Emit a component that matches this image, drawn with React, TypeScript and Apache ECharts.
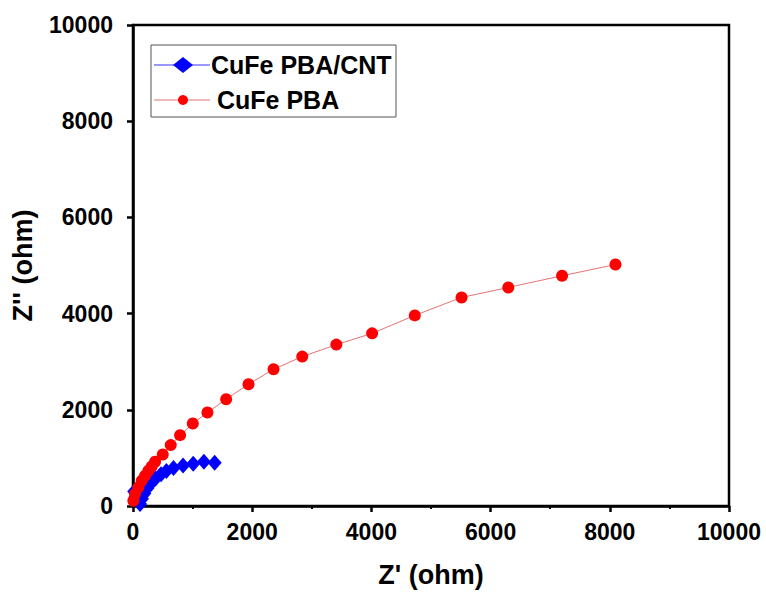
import React, { useEffect, useRef } from "react";
import * as echarts from "echarts";

const seriesNames = ["CuFe PBA/CNT", "CuFe PBA"];

// [Z', Z''] in ohm
const cntData: number[][] = [
  [20, 300], [45, 200], [118, 40], [150, 150], [190, 260], [240, 370], [300, 470],
  [380, 570], [470, 660], [560, 730], [680, 790], [840, 840], [1010, 880],
  [1190, 920], [1370, 900],
];

const pbaData: number[][] = [
  [6, 110], [34, 249], [90, 387], [146, 525], [202, 629], [258, 733], [314, 823],
  [370, 920], [499, 1072], [633, 1266], [790, 1473], [1003, 1715], [1249, 1943],
  [1563, 2220], [1938, 2531], [2358, 2842], [2840, 3106], [3412, 3355],
  [4012, 3589], [4728, 3963], [5513, 4336], [6297, 4544], [7199, 4786],
  [8095, 5021],
];

const xTitle = "Z' (ohm)";
const yTitle = "Z'' (ohm)";

const FONT = "'Liberation Sans', Arial, sans-serif";
const BLUE = "#0000ff";
const BLUE_LINE = "#3333ff";
const RED = "#ff0000";
const RED_LINE = "#e57373";

export default function App() {
  const ref = useRef<HTMLDivElement>(null);
  useEffect(() => {
    if (!ref.current) return;
    const chart = echarts.init(ref.current, null, { renderer: "svg" });
    const axisCommon = {
      type: "value" as const,
      min: 0,
      max: 10000,
      interval: 2000,
      splitLine: { show: false },
      axisLine: { show: true, onZero: false, lineStyle: { color: "#000", width: 2.5 } },
      axisTick: { show: true, inside: false, length: 6, lineStyle: { color: "#000", width: 2.5 } },
    };
    const labelStyle = {
      fontFamily: FONT,
      fontWeight: "bold" as const,
      fontSize: 23,
      color: "#000",
      formatter: (v: number) => String(v),
    };
    const titleStyle = { fontFamily: FONT, fontWeight: "bold" as const, fontSize: 27, color: "#000" };
    const legendText = { fontFamily: FONT, fontWeight: "bold", fontSize: 25, fill: "#000" };
    chart.setOption({
      animation: false,
      backgroundColor: "#fff",
      grid: {
        left: 133,
        right: 37,
        top: 25,
        bottom: 86,
        show: true,
        borderColor: "#000",
        borderWidth: 2.5,
        backgroundColor: "transparent",
      },
      graphic: [
        {
          type: "group",
          z: 10,
          children: [
            {
              type: "rect",
              shape: { x: 151, y: 45, width: 245, height: 72 },
              style: { fill: "#fff", stroke: "#555", lineWidth: 1 },
            },
            {
              type: "line",
              shape: { x1: 154, y1: 65, x2: 210, y2: 65 },
              style: { stroke: BLUE_LINE, lineWidth: 1 },
            },
            {
              type: "polygon",
              shape: { points: [[183, 57], [193, 65], [183, 73], [173, 65]] },
              style: { fill: BLUE },
            },
            {
              type: "text",
              x: 211,
              y: 65,
              style: { ...legendText, text: seriesNames[0], verticalAlign: "middle", align: "left" },
            },
            {
              type: "line",
              shape: { x1: 154, y1: 100, x2: 210, y2: 100 },
              style: { stroke: RED_LINE, lineWidth: 1 },
            },
            {
              type: "circle",
              shape: { cx: 183, cy: 100, r: 5 },
              style: { fill: RED },
            },
            {
              type: "text",
              x: 217,
              y: 100,
              style: { ...legendText, text: seriesNames[1], verticalAlign: "middle", align: "left" },
            },
          ],
        },
      ],
      xAxis: {
        ...axisCommon,
        name: xTitle,
        nameLocation: "middle",
        nameGap: 55,
        nameTextStyle: titleStyle,
        minorTick: { show: true, splitNumber: 2, length: 3, lineStyle: { color: "#000", width: 2 } },
        axisLabel: { margin: 14, ...labelStyle },
      },
      yAxis: {
        ...axisCommon,
        name: yTitle,
        nameLocation: "middle",
        nameGap: 97,
        nameTextStyle: titleStyle,
        axisLabel: { margin: 20, ...labelStyle },
      },
      series: [
        {
          name: seriesNames[0],
          type: "line",
          data: cntData,
          symbol: "diamond",
          symbolSize: [14, 16],
          itemStyle: { color: BLUE },
          lineStyle: { color: BLUE_LINE, width: 1 },
          z: 2,
        },
        {
          name: seriesNames[1],
          type: "line",
          data: pbaData,
          symbol: "circle",
          symbolSize: 12,
          itemStyle: { color: RED },
          lineStyle: { color: RED_LINE, width: 1 },
          z: 3,
        },
      ],
    });
    return () => chart.dispose();
  }, []);
  return (
    <div
      ref={ref}
      style={{ position: "fixed", left: 0, top: 0, width: 766, height: 593, background: "#fff" }}
    />
  );
}
